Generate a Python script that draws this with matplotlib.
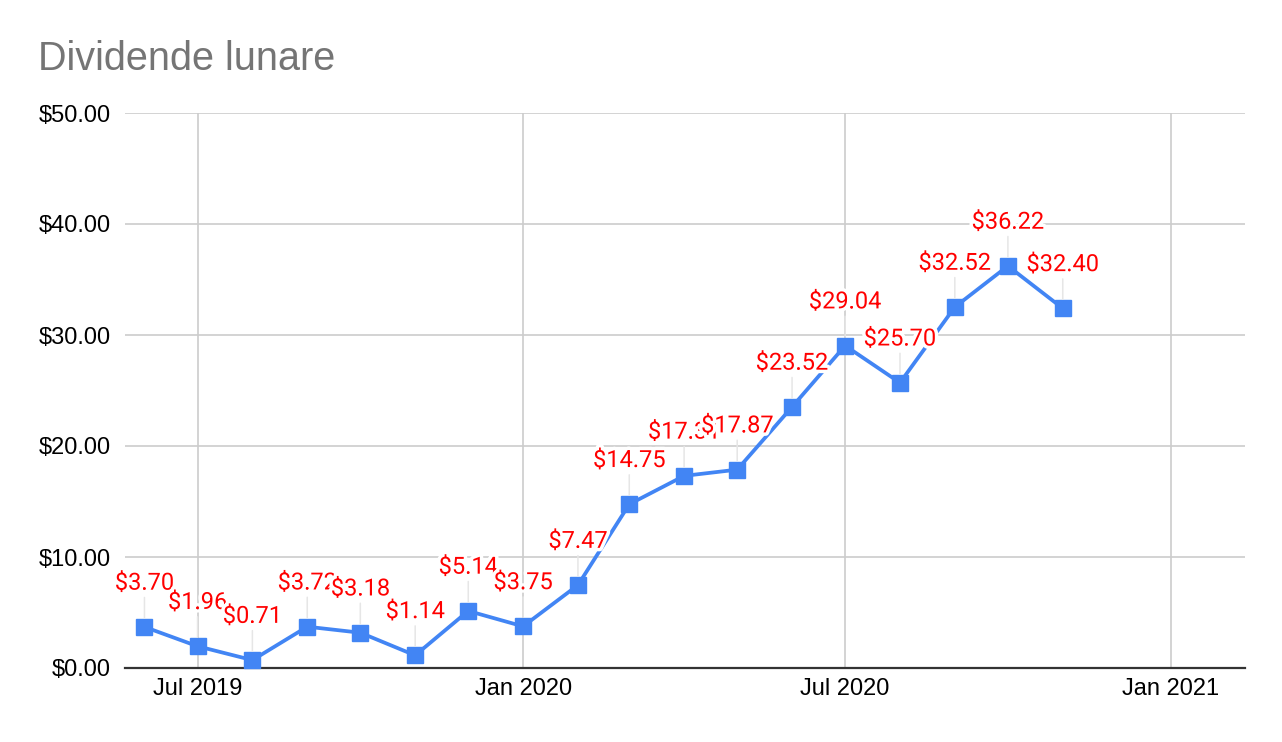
"""Grafic cu dividendele lunare."""

import matplotlib

matplotlib.use("Agg")

import matplotlib.patheffects as pe
import matplotlib.pyplot as plt
import matplotlib.ticker as mticker
import pandas as pd

months = pd.date_range("2019-06-01", "2020-11-01", freq="MS")
dividends = [3.70, 1.96, 0.71, 3.72, 3.18, 1.14, 5.14, 3.75, 7.47,
             14.75, 17.31, 17.87, 23.52, 29.04, 25.70, 32.52, 36.22, 32.40]
x_ticks = pd.to_datetime(["2019-07-01", "2020-01-01", "2020-07-01", "2021-01-01"])
x_tick_labels = ["Jul 2019", "Jan 2020", "Jul 2020", "Jan 2021"]
y_ticks = [0, 10, 20, 30, 40, 50]

fig = plt.figure(figsize=(12.82, 7.42), dpi=100)
ax = fig.add_axes([125 / 1282, 74 / 742, 1120 / 1282, 555 / 742])

ax.plot(months, dividends, color="#4285f4", linewidth=2.7, marker="s",
        markersize=12, zorder=3, clip_on=False)

for i, (month, value) in enumerate(zip(months, dividends)):
    ax.annotate(
        f"${value:.2f}", xy=(month, value), xytext=(0, 31.5), textcoords="offset points",
        ha="center", va="center", color="#ff0000", fontsize=17, family="Roboto",
        zorder=5 + i,
        arrowprops=dict(arrowstyle="-", color="#e6e6e6", linewidth=1.1,
                        shrinkA=0, shrinkB=6.5),
        path_effects=[pe.withStroke(linewidth=5, foreground="white")],
    )

ax.set_xlim(pd.Timestamp("2019-05-21"), pd.Timestamp("2021-02-12"))
ax.set_ylim(0, 50)
ax.set_xticks(x_ticks)
ax.set_xticklabels(x_tick_labels)
ax.set_yticks(y_ticks)
ax.yaxis.set_major_formatter(mticker.FuncFormatter(lambda v, _: f"${v:.2f}"))

ax.grid(True, color="#cccccc", linewidth=1.2, zorder=0)
ax.set_axisbelow(True)
for side in ("left", "right", "top"):
    ax.spines[side].set_visible(False)
ax.spines["bottom"].set_color("#333333")
ax.spines["bottom"].set_linewidth(1.6)
ax.spines["bottom"].set_zorder(2)
ax.tick_params(length=0, labelsize=17, labelcolor="#000000")
ax.tick_params(axis="y", pad=10)
ax.tick_params(axis="x", pad=7)
for label in ax.get_xticklabels() + ax.get_yticklabels():
    label.set_family("Liberation Sans")

fig.text(38 / 1282, 1 - 70 / 742, "Dividende lunare", fontsize=28.5,
         color="#757575", family="Liberation Sans", va="baseline")

fig.savefig("out.png", dpi=100, facecolor="white")
